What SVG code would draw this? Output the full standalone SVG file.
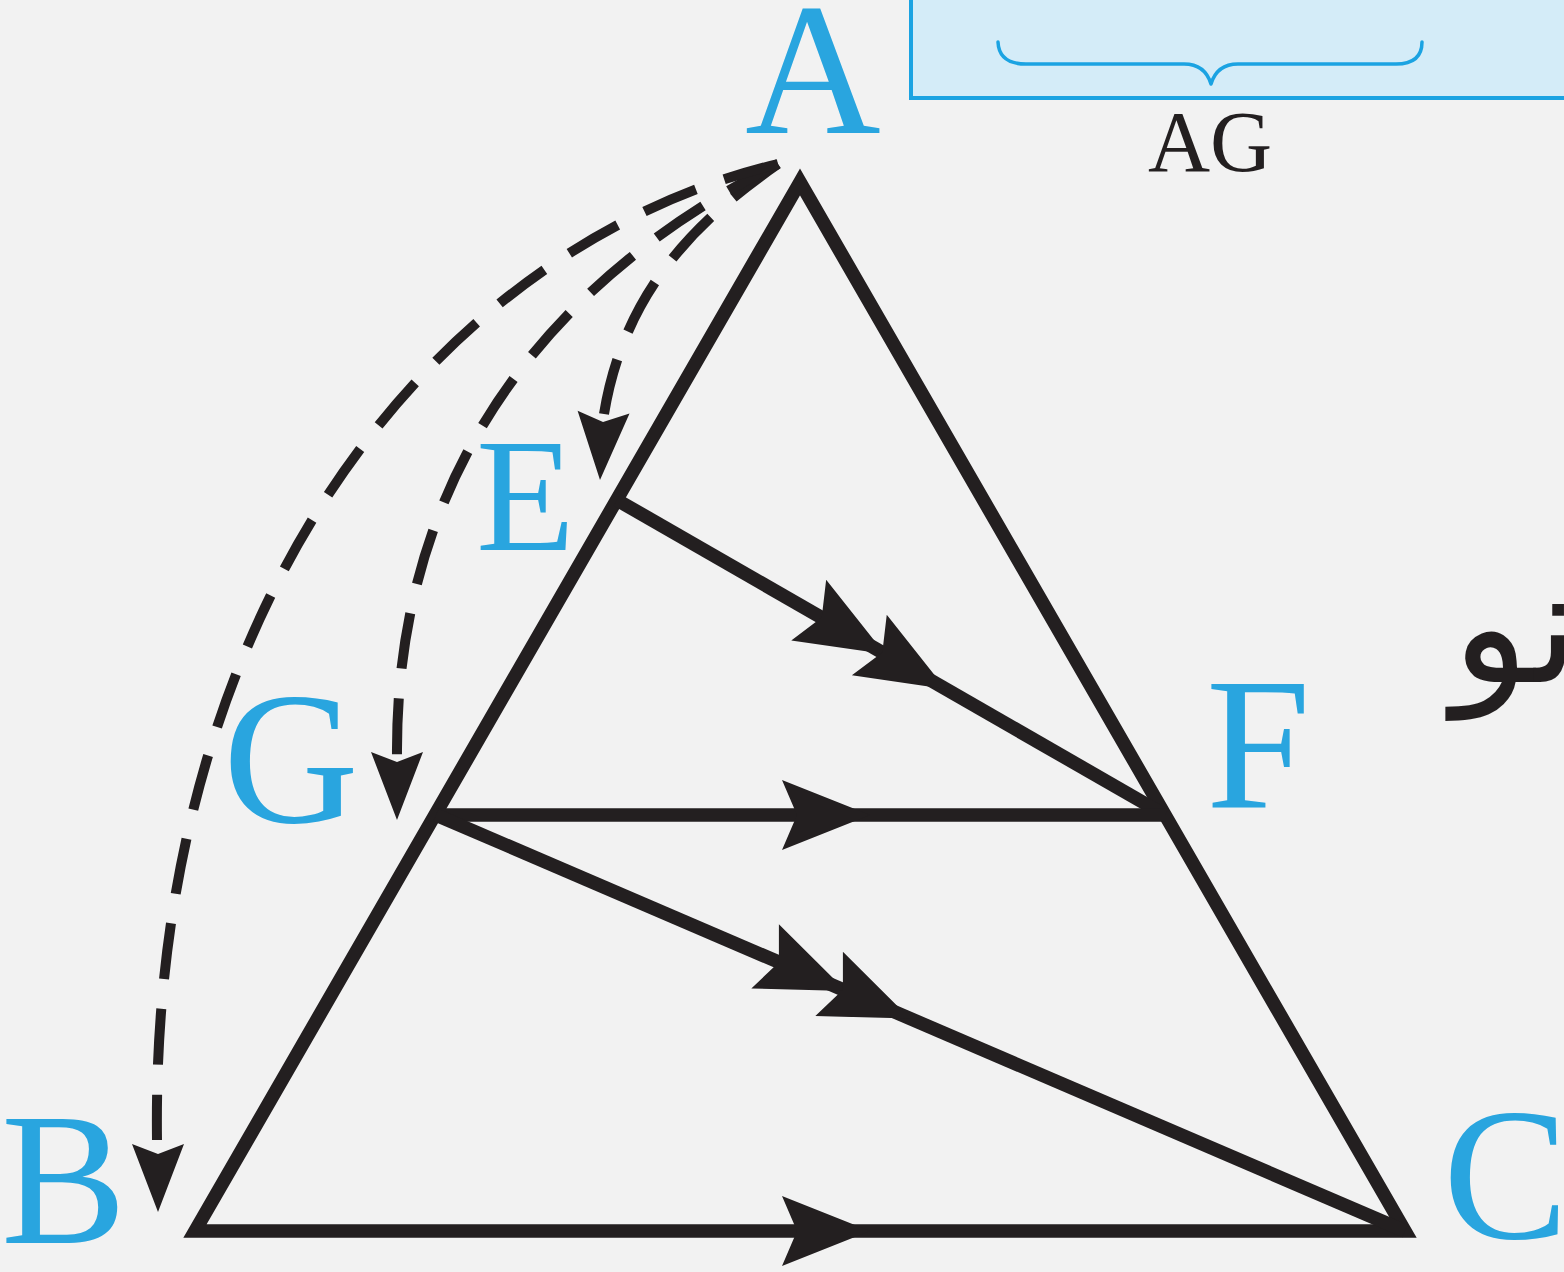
<svg xmlns="http://www.w3.org/2000/svg" width="1564" height="1272" viewBox="0 0 1564 1272">
<style>
.bg{fill:#f2f2f2}
.edge{fill:none;stroke:#231f20;stroke-width:13.5;stroke-linejoin:miter;stroke-linecap:butt}
.dash{fill:none;stroke:#231f20;stroke-width:10;stroke-dasharray:56 30}
.head{fill:#231f20}
.lbl{fill:#29a5df}
.dark{fill:#231f20}
.box{fill:#d4ecf8;stroke:#1ba3e2;stroke-width:4}
.brace{fill:none;stroke:#1ba3e2;stroke-width:3.5;stroke-linecap:round;stroke-linejoin:round}
</style>
<defs>
<path id="ah" d="M0,0 L-88,-35 L-73,0 L-88,35 Z"/>
<path id="dh" d="M0,0 L-68,-26 L-58,0 L-68,26 Z"/>
</defs>
<rect class="bg" x="0" y="0" width="1564" height="1272"/>

<g id="note">
<rect class="box" x="911" y="-20" width="700" height="118"/>
<path class="brace" d="M998,42 Q999,64 1026,64 L1184,64 Q1205,64 1211,84 Q1217,64 1238,64 L1396,64 Q1422,64 1422,42"/>
<text class="dark" x="1210" y="171" font-family="'Liberation Serif', 'Times New Roman', serif" font-size="86" text-anchor="middle">AG</text>
</g>

<g id="side-text">
<text x="1452" y="682" font-family="'DejaVu Sans', sans-serif" font-size="160" fill="#231f20">نو</text>
</g>

<g id="connectors">
<polygon class="edge" points="800,182 195,1231 1405,1231"/>
<line class="edge" x1="617" y1="500" x2="1165" y2="815"/>
<line class="edge" x1="436" y1="815" x2="1165" y2="815"/>
<line class="edge" x1="436" y1="815" x2="1405" y2="1231"/>
<use href="#ah" class="head" transform="translate(885,654) rotate(29.9)"/>
<use href="#ah" class="head" transform="translate(945.6,688.9) rotate(29.9)"/>
<use href="#ah" class="head" transform="translate(870,815)"/>
<use href="#ah" class="head" transform="translate(846,991) rotate(23.2)"/>
<use href="#ah" class="head" transform="translate(910,1018.6) rotate(23.2)"/>
<use href="#ah" class="head" transform="translate(870,1231)"/>
<path class="dash" d="M778,164 C705,215 625,285 604,414"/>
<path class="dash" d="M778,164 C575,265 395,450 397,755"/>
<path class="dash" d="M778,164 C440,245 150,600 157,1140"/>
<use href="#dh" class="head" transform="translate(600,480) rotate(93)"/>
<use href="#dh" class="head" transform="translate(397,820) rotate(90)"/>
<use href="#dh" class="head" transform="translate(158,1212) rotate(90)"/>
</g>

<g id="node-A"><text class="lbl" x="745" y="133" font-family="'Liberation Serif', 'Times New Roman', serif" font-size="188">A</text></g>
<g id="node-B"><text class="lbl" x="1" y="1243" font-family="'Liberation Serif', 'Times New Roman', serif" font-size="188">B</text></g>
<g id="node-C"><text class="lbl" x="1443" y="1238" font-family="'Liberation Serif', 'Times New Roman', serif" font-size="188">C</text></g>
<g id="node-E"><text class="lbl" x="476" y="550" font-family="'Liberation Serif', 'Times New Roman', serif" font-size="162">E</text></g>
<g id="node-F"><text class="lbl" x="1206" y="808" font-family="'Liberation Serif', 'Times New Roman', serif" font-size="188">F</text></g>
<g id="node-G"><text class="lbl" x="223" y="822" font-family="'Liberation Serif', 'Times New Roman', serif" font-size="188">G</text></g>
</svg>
